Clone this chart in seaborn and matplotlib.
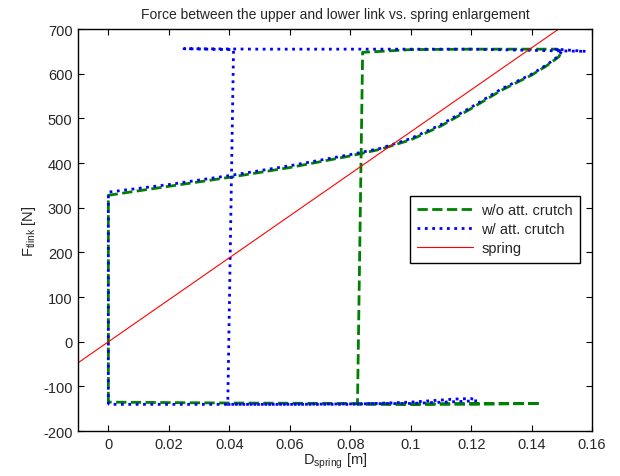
import matplotlib
matplotlib.use("Agg")
import matplotlib.pyplot as plt
import seaborn as sns

# data
wo_x = [0, 0, 0.02, 0.04, 0.06, 0.08, 0.09, 0.10, 0.11, 0.12, 0.13, 0.14, 0.145, 0.149, 0.150, 0.148,
        0.12, 0.10, 0.09, 0.0841, 0.0824, 0.10, 0.12, 0.143, 0.12, 0.08, 0.04, 0]
wo_y = [-135, 328, 348, 368, 390, 416, 431, 452, 483, 522, 563, 597, 618, 638, 650, 655,
        655, 654, 650, 648, -140, -140, -138, -138, -140, -138, -137, -135]

w_x = [0, 0, 0.02, 0.04, 0.06, 0.08, 0.09, 0.10, 0.11, 0.12, 0.13, 0.14, 0.145, 0.149, 0.150, 0.148,
       0.158, 0.12, 0.08, 0.05, 0.025, 0.0414, 0.0395, 0.08, 0.10, 0.115, 0.12, 0.122, 0.10, 0.06, 0.02, 0]
w_y = [-140, 335, 352, 372, 394, 419, 433, 455, 486, 525, 566, 599, 620, 640, 651, 655,
       650, 655, 655, 655, 656, 654, -140, -140, -135, -128, -127, -132, -138, -140, -140, -140]

spring_x = [-0.01, 0.16]
spring_y = [-47, 752]

sns.set_style("white")
plt.rcParams['font.family'] = ['Liberation Sans', 'DejaVu Sans']
plt.rcParams['mathtext.fontset'] = 'custom'
plt.rcParams['mathtext.rm'] = 'Liberation Sans'
plt.rcParams['axes.unicode_minus'] = False

fig = plt.figure(figsize=(6.2, 4.77), dpi=100)
ax = fig.add_axes([0.126, 0.094, 0.829, 0.843])

sns.lineplot(x=wo_x, y=wo_y, sort=False, estimator=None, ax=ax, color=(0, 0.5, 0),
             linestyle='--', linewidth=2, label='w/o att. crutch')
sns.lineplot(x=w_x, y=w_y, sort=False, estimator=None, ax=ax, color='blue',
             linestyle=':', linewidth=2, label='w/ att. crutch')
sns.lineplot(x=spring_x, y=spring_y, sort=False, estimator=None, ax=ax, color='red',
             linewidth=0.8, label='spring')

ax.set_xlim(-0.01, 0.16)
ax.set_ylim(-200, 700)
ax.set_xticks([0, 0.02, 0.04, 0.06, 0.08, 0.1, 0.12, 0.14, 0.16])
ax.set_xticklabels(['0', '0.02', '0.04', '0.06', '0.08', '0.1', '0.12', '0.14', '0.16'])
ax.set_yticks(range(-200, 701, 100))
ax.tick_params(direction='in', bottom=True, left=True, top=True, right=True,
               length=4, width=0.8, color='black', labelsize=10.5, pad=4)
for s in ax.spines.values():
    s.set_linewidth(1)
    s.set_color('black')

ax.set_title('Force between the upper and lower link vs. spring enlargement', fontsize=10, pad=8)
ax.set_xlabel(r'D$_{\rm spring}$ [m]', fontsize=10.5, labelpad=0)
ax.set_ylabel(r'F$_{\rm tlink}$ [N]', fontsize=10.5, labelpad=4)

leg = ax.legend(loc='upper right', bbox_to_anchor=(0.977, 0.585), borderaxespad=0, fontsize=10.5,
                frameon=True, fancybox=False, edgecolor='black', framealpha=1, borderpad=0.5,
                handlelength=3.8, handletextpad=0.6, labelspacing=0.35)
leg.get_frame().set_linewidth(1)

fig.savefig('out.png', dpi=100)
